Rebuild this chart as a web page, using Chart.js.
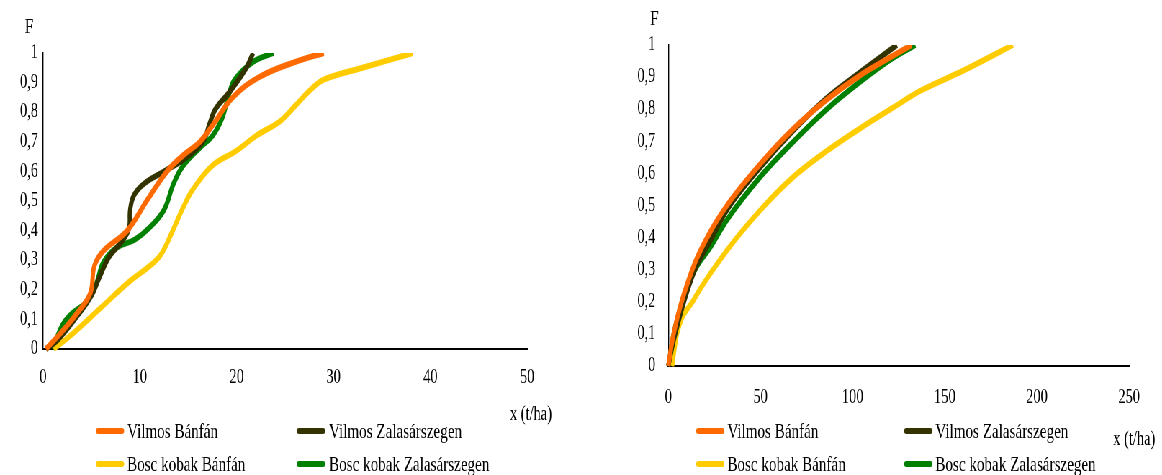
<!DOCTYPE html>
<html>
<head>
<meta charset="utf-8">
<script src="https://cdn.jsdelivr.net/npm/chart.js@4"></script>
<style>
body { margin: 0; background: #fff; overflow: hidden; }
/* the reference text looks horizontally squeezed, so draw wide and squeeze */
#wrap { position: absolute; left: 0; top: 0; width: 1614px; height: 475px; transform: scaleX(0.72); transform-origin: 0 0; }
canvas { position: absolute; top: 0; }
</style>
</head>
<body>
<div id="wrap">
  <canvas id="left" width="778" height="475" style="left:0px"></canvas>
  <canvas id="right" width="808" height="475" style="left:806px"></canvas>
</div>
<script>
var SQ = 0.72;

var seriesLabels = ['Vilmos Bánfán', 'Vilmos Zalasárszegen', 'Bosc kobak Bánfán', 'Bosc kobak Zalasárszegen'];
var seriesColors = ['#ff6a00', '#333300', '#ffcc00', '#008000'];

// left chart (x in t/ha, F)
var leftVbX = [0.3, 2, 3.5, 4.9, 5.3, 6.2, 8.7, 10.7, 12.8, 14.5, 16.2, 17.6, 19.6, 22.4, 26.5, 29];
var leftVbY = [0, 0.06, 0.12, 0.19, 0.28, 0.33, 0.40, 0.50, 0.60, 0.655, 0.70, 0.76, 0.85, 0.92, 0.975, 1];
var leftVzX = [0.3, 1.5, 3.5, 5, 5.8, 6.8, 8.3, 8.9, 9.0, 9.4, 10.5, 12.5, 14.5, 16.5, 17.2, 17.8, 19.3, 21, 21.7];
var leftVzY = [0, 0.03, 0.11, 0.18, 0.24, 0.31, 0.37, 0.41, 0.47, 0.52, 0.56, 0.60, 0.64, 0.70, 0.76, 0.81, 0.87, 0.95, 1];
var leftBbX = [1.1, 3, 6, 9, 11, 12.2, 13.4, 14.5, 15.5, 17.5, 20, 22, 24.5, 26, 27.6, 29, 33, 38.2];
var leftBbY = [0, 0.05, 0.14, 0.23, 0.28, 0.32, 0.40, 0.48, 0.54, 0.62, 0.67, 0.72, 0.77, 0.82, 0.875, 0.91, 0.95, 1];
var leftBzX = [1, 2, 3, 4.5, 5.5, 6.2, 7.5, 9.5, 11, 12.5, 13.5, 14.5, 16.2, 17.5, 18.5, 19.2, 19.8, 21.7, 23.8];
var leftBzY = [0, 0.08, 0.12, 0.16, 0.22, 0.29, 0.34, 0.37, 0.41, 0.47, 0.56, 0.62, 0.68, 0.72, 0.78, 0.86, 0.91, 0.97, 1];

// right chart
var rightVbX = [0, 2.5, 13, 22, 31.8, 50, 68, 86, 104, 120, 132];
var rightVbY = [0, 0.09, 0.30, 0.41, 0.50, 0.63, 0.74, 0.83, 0.905, 0.96, 1];
var rightVzX = [0, 2.9, 13.7, 22.8, 31.8, 50, 68, 86, 104, 124];
var rightVzY = [0, 0.08, 0.29, 0.39, 0.486, 0.62, 0.735, 0.835, 0.915, 1];
var rightBbX = [2, 4.7, 13.7, 31.8, 50, 68, 86, 104, 122, 136, 160, 187];
var rightBbY = [0, 0.10, 0.205, 0.36, 0.486, 0.59, 0.67, 0.74, 0.805, 0.855, 0.92, 1];
var rightBzX = [0, 2.9, 13.7, 22.8, 31.8, 50, 68, 86, 104, 122, 134];
var rightBzY = [0, 0.10, 0.29, 0.37, 0.455, 0.59, 0.70, 0.80, 0.885, 0.96, 1];

var leftXTicks = [0, 10, 20, 30, 40, 50];
var rightXTicks = [0, 50, 100, 150, 200, 250];
var yTicks = [0, 0.1, 0.2, 0.3, 0.4, 0.5, 0.6, 0.7, 0.8, 0.9, 1];

var FONT = 'Liberation Serif';

var extraText = {
  id: 'extraText',
  afterDraw: function (chart, args, o) {
    var ctx = chart.ctx;
    ctx.save();
    ctx.fillStyle = '#000';
    ctx.textAlign = 'center';
    ctx.textBaseline = 'middle';
    ctx.font = '22px "' + FONT + '"';
    ctx.fillText('F', o.fPos[0] / SQ, o.fPos[1]);
    ctx.font = '20px "' + FONT + '"';
    ctx.fillText('x (t/ha)', o.xPos[0] / SQ, o.xPos[1]);

    // legend in two aligned columns
    chart.data.datasets.forEach(function (ds, i) {
      var col = i % 2, row = Math.floor(i / 2);
      var y = o.rows[row];
      ctx.strokeStyle = ds.borderColor;
      ctx.lineWidth = 6;
      ctx.lineCap = 'round';
      ctx.beginPath();
      ctx.moveTo((o.sample[col] + 3) / SQ, y);
      ctx.lineTo((o.sample[col] + 27) / SQ, y);
      ctx.stroke();
      ctx.textAlign = 'left';
      ctx.font = '21px "' + FONT + '"';
      ctx.fillText(ds.label, o.text[col] / SQ, y + 1);
    });
    ctx.restore();
  }
};

function makeChart(id, xs, ys, o) {
  var datasets = xs.map(function (xArr, k) {
    return {
      label: seriesLabels[k],
      data: xArr.map(function (v, i) { return { x: v, y: ys[k][i] }; }),
      borderColor: seriesColors[k],
      backgroundColor: seriesColors[k],
      borderWidth: 6,
      pointRadius: 0,
      showLine: true,
      fill: false,
      tension: o.tension,
      cubicInterpolationMode: o.mode,
      clip: { left: 10, top: 0, right: 10, bottom: 10 }
    };
  });

  return new Chart(document.getElementById(id), {
    type: 'scatter',
    data: { datasets: datasets },
    plugins: [extraText],
    options: {
      responsive: false,
      animation: false,
      layout: { padding: { top: o.top, right: o.right / SQ, bottom: 475 - o.bottom - 40, left: 0 } },
      plugins: {
        legend: { display: false },
        tooltip: { enabled: false },
        extraText: o.text
      },
      scales: {
        x: {
          type: 'linear',
          min: 0,
          max: o.xTicks[o.xTicks.length - 1],
          afterBuildTicks: function (scale) { scale.ticks = o.xTicks.map(function (v) { return { value: v }; }); },
          afterFit: function (scale) { scale.height = 40; },
          grid: { display: false, drawTicks: false },
          border: { display: true, color: '#000', width: 2 },
          ticks: { color: '#000', font: { family: FONT, size: 20 }, padding: o.xPad, maxRotation: 0 }
        },
        y: {
          type: 'linear',
          min: 0,
          max: 1,
          afterBuildTicks: function (scale) { scale.ticks = yTicks.map(function (v) { return { value: v }; }); },
          afterFit: function (scale) { scale.width = o.yWidth / SQ; },
          grid: { display: false, drawTicks: false },
          border: { display: true, color: '#000', width: 1.4 },
          ticks: {
            color: '#000',
            font: { family: FONT, size: 20 },
            padding: o.yPad / SQ,
            callback: function (v) { return String(Number(v.toFixed(1))).replace('.', ','); }
          }
        }
      }
    }
  });
}

makeChart('left',
  [leftVbX, leftVzX, leftBbX, leftBzX],
  [leftVbY, leftVzY, leftBbY, leftBzY],
  {
    top: 53, bottom: 349, right: 560 - 527, yWidth: 43, yPad: 5, xPad: 17,
    xTicks: leftXTicks, tension: 0.4, mode: 'default',
    text: { fPos: [29, 27], xPos: [531, 415], rows: [431, 464], sample: [95, 296], text: [127, 329] }
  });

makeChart('right',
  [rightVbX, rightVzX, rightBbX, rightBzX],
  [rightVbY, rightVzY, rightBbY, rightBzY],
  {
    top: 45, bottom: 366, right: 1162 - 1129, yWidth: 668 - 580, yPad: 13, xPad: 20,
    xTicks: rightXTicks, tension: 0.4, mode: 'monotone',
    text: { fPos: [74, 19], xPos: [554, 440], rows: [431, 464], sample: [115, 323], text: [147, 355] }
  });
</script>
</body>
</html>
